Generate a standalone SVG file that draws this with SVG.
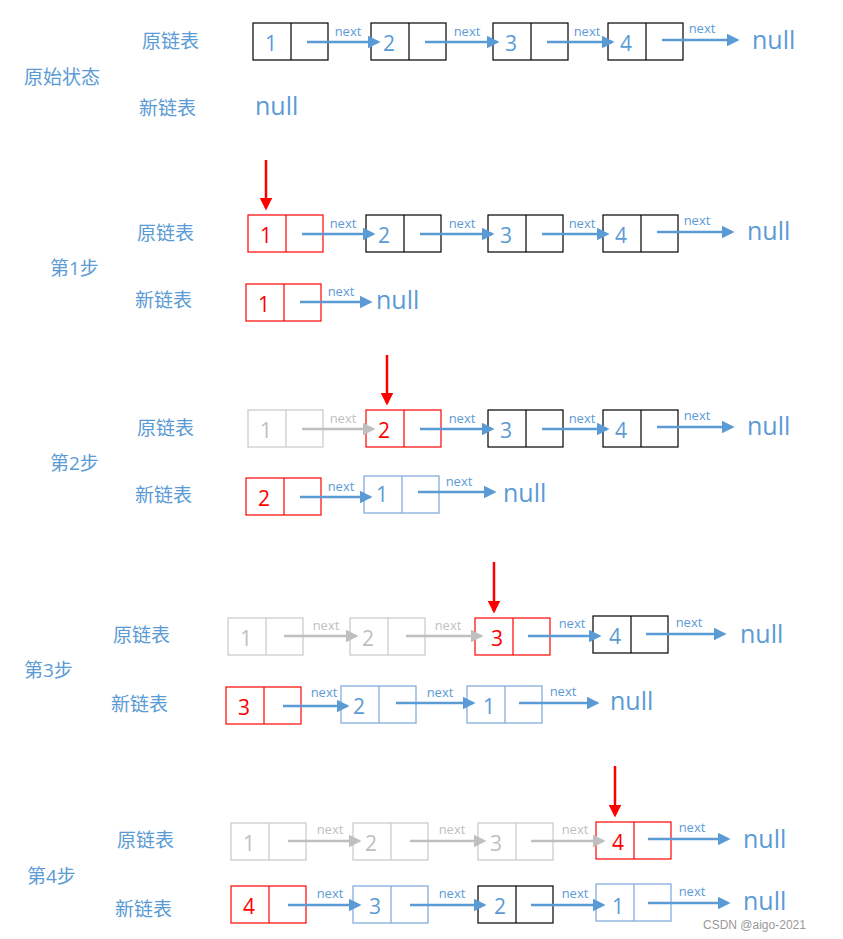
<svg xmlns="http://www.w3.org/2000/svg" width="843" height="939" viewBox="0 0 843 939">
<style>
text{font-family:"Open Sans","Noto Sans CJK SC",sans-serif;stroke:none}
.lb{fill:#5B9BD5;font-size:19px}
.num{font-size:21px;text-anchor:middle}
.nx{font-size:13px;text-anchor:middle}
.nl{fill:#5B9BD5;font-size:25px}
#bx rect{fill:#fff}
#bx{stroke-width:1.2}
.k{stroke:#000}.k text{fill:#5B9BD5}
.r{stroke:#FF0000}.r text{fill:#FF0000}
.g{stroke:#C8C8C8}.g text{fill:#BFBFBF}
.b{stroke:#7BA7D9}.b text{fill:#5B9BD5}
.ab{stroke:#5B9BD5;stroke-width:2.5;marker-end:url(#mb)}
.ag{stroke:#BFBFBF;stroke-width:2.5;marker-end:url(#mg)}
.tb{fill:#5B9BD5}.tg{fill:#BFBFBF}
.ar{stroke:#FF0000;stroke-width:2.5;marker-end:url(#mr)}
</style>
<defs>
<marker id="mb" markerWidth="5" markerHeight="5" refX="4" refY="2.5" orient="auto"><path d="M0,0L5,2.5L0,5z" fill="#5B9BD5" stroke="none"/></marker>
<marker id="mg" markerWidth="5" markerHeight="5" refX="4" refY="2.5" orient="auto"><path d="M0,0L5,2.5L0,5z" fill="#BFBFBF" stroke="none"/></marker>
<marker id="mr" markerWidth="5" markerHeight="5" refX="4" refY="2.5" orient="auto"><path d="M0,0L5,2.5L0,5z" fill="#FF0000" stroke="none"/></marker>
<g id="bx"><rect x="0" y="0" width="75" height="37"/><line x1="38" y1="0" x2="38" y2="37"/></g>
</defs>
<g id="labels">
<text class="lb" x="142" y="48">原链表</text><text class="lb" x="139" y="115">新链表</text><text class="lb" x="24" y="84">原始状态</text>
<text class="lb" x="137" y="240">原链表</text><text class="lb" x="135" y="307">新链表</text><text class="lb" x="50" y="275">第1步</text>
<text class="lb" x="137" y="435">原链表</text><text class="lb" x="135" y="502">新链表</text><text class="lb" x="50" y="470">第2步</text>
<text class="lb" x="113" y="642">原链表</text><text class="lb" x="111" y="711">新链表</text><text class="lb" x="24" y="677">第3步</text>
<text class="lb" x="117" y="847">原链表</text><text class="lb" x="115" y="916">新链表</text><text class="lb" x="27" y="883">第4步</text>
<text class="nl" x="752" y="49">null</text><text class="nl" x="255" y="115">null</text>
<text class="nl" x="747" y="240">null</text><text class="nl" x="376" y="309">null</text>
<text class="nl" x="747" y="435">null</text><text class="nl" x="503" y="502">null</text>
<text class="nl" x="740" y="643">null</text><text class="nl" x="610" y="710">null</text>
<text class="nl" x="743" y="848">null</text><text class="nl" x="743" y="910">null</text>
<text x="703" y="929" fill="#999" font-size="12" style="font-family:'Liberation Sans',sans-serif">CSDN @aigo-2021</text>
</g>
<g id="nodes">
<g id="s0a" class="k" transform="translate(253,23)"><use href="#bx"/><text class="num" x="18" y="28">1</text></g>
<g id="s0b" class="k" transform="translate(371,23)"><use href="#bx"/><text class="num" x="18" y="28">2</text></g>
<g id="s0c" class="k" transform="translate(493,23)"><use href="#bx"/><text class="num" x="18" y="28">3</text></g>
<g id="s0d" class="k" transform="translate(608,23)"><use href="#bx"/><text class="num" x="18" y="28">4</text></g>

<g id="s1a" class="r" transform="translate(248,215)"><use href="#bx"/><text class="num" x="18" y="28">1</text></g>
<g id="s1b" class="k" transform="translate(366,215)"><use href="#bx"/><text class="num" x="18" y="28">2</text></g>
<g id="s1c" class="k" transform="translate(488,215)"><use href="#bx"/><text class="num" x="18" y="28">3</text></g>
<g id="s1d" class="k" transform="translate(603,215)"><use href="#bx"/><text class="num" x="18" y="28">4</text></g>
<g id="s1n" class="r" transform="translate(246,284)"><use href="#bx"/><text class="num" x="18" y="28">1</text></g>

<g id="s2a" class="g" transform="translate(248,410)"><use href="#bx"/><text class="num" x="18" y="28">1</text></g>
<g id="s2b" class="r" transform="translate(366,410)"><use href="#bx"/><text class="num" x="18" y="28">2</text></g>
<g id="s2c" class="k" transform="translate(488,410)"><use href="#bx"/><text class="num" x="18" y="28">3</text></g>
<g id="s2d" class="k" transform="translate(603,410)"><use href="#bx"/><text class="num" x="18" y="28">4</text></g>
<g id="s2n1" class="r" transform="translate(246,478)"><use href="#bx"/><text class="num" x="18" y="28">2</text></g>
<g id="s2n2" class="b" transform="translate(364,476)"><use href="#bx"/><text class="num" x="18" y="26">1</text></g>

<g id="s3a" class="g" transform="translate(228,618)"><use href="#bx"/><text class="num" x="18" y="28">1</text></g>
<g id="s3b" class="g" transform="translate(350,618)"><use href="#bx"/><text class="num" x="18" y="28">2</text></g>
<g id="s3c" class="r" transform="translate(475,618)"><use href="#bx"/><text class="num" x="22" y="28">3</text></g>
<g id="s3d" class="k" transform="translate(593,616)"><use href="#bx"/><text class="num" x="22" y="28">4</text></g>
<g id="s3n1" class="r" transform="translate(226,687)"><use href="#bx"/><text class="num" x="18" y="28">3</text></g>
<g id="s3n2" class="b" transform="translate(341,686)"><use href="#bx"/><text class="num" x="18" y="28">2</text></g>
<g id="s3n3" class="b" transform="translate(467,686)"><use href="#bx"/><text class="num" x="22" y="28">1</text></g>

<g id="s4a" class="g" transform="translate(231,823)"><use href="#bx"/><text class="num" x="18" y="28">1</text></g>
<g id="s4b" class="g" transform="translate(353,823)"><use href="#bx"/><text class="num" x="18" y="28">2</text></g>
<g id="s4c" class="g" transform="translate(478,823)"><use href="#bx"/><text class="num" x="18" y="28">3</text></g>
<g id="s4d" class="r" transform="translate(596,822)"><use href="#bx"/><text class="num" x="22" y="28">4</text></g>
<g id="s4n1" class="r" transform="translate(231,886)"><use href="#bx"/><text class="num" x="18" y="28">4</text></g>
<g id="s4n2" class="b" transform="translate(353,886)"><use href="#bx"/><text class="num" x="22" y="28">3</text></g>
<g id="s4n3" class="k" transform="translate(478,886)"><use href="#bx"/><text class="num" x="22" y="28">2</text></g>
<g id="s4n4" class="b" transform="translate(596,884)"><use href="#bx"/><text class="num" x="22" y="30">1</text></g>
</g>
<g id="connectors">
<line class="ab" x1="307" y1="42" x2="378" y2="42"/><text class="nx tb" x="348" y="36">next</text>
<line class="ab" x1="425" y1="42" x2="497" y2="42"/><text class="nx tb" x="467" y="36">next</text>
<line class="ab" x1="547" y1="42" x2="612" y2="42"/><text class="nx tb" x="587" y="36">next</text>
<line class="ab" x1="662" y1="40" x2="737" y2="40"/><text class="nx tb" x="702" y="33">next</text>
<line class="ar" x1="266" y1="160" x2="266" y2="208"/>
<line class="ab" x1="302" y1="234" x2="373" y2="234"/><text class="nx tb" x="343" y="228">next</text>
<line class="ab" x1="420" y1="234" x2="492" y2="234"/><text class="nx tb" x="462" y="228">next</text>
<line class="ab" x1="542" y1="234" x2="607" y2="234"/><text class="nx tb" x="582" y="228">next</text>
<line class="ab" x1="657" y1="232" x2="732" y2="232"/><text class="nx tb" x="697" y="225">next</text>
<line class="ab" x1="300" y1="302" x2="370" y2="302"/><text class="nx tb" x="341" y="296">next</text>
<line class="ar" x1="387" y1="355" x2="387" y2="403"/>
<line class="ag" x1="302" y1="429" x2="373" y2="429"/><text class="nx tg" x="343" y="423">next</text>
<line class="ab" x1="420" y1="429" x2="492" y2="429"/><text class="nx tb" x="462" y="423">next</text>
<line class="ab" x1="542" y1="429" x2="607" y2="429"/><text class="nx tb" x="582" y="423">next</text>
<line class="ab" x1="657" y1="427" x2="732" y2="427"/><text class="nx tb" x="697" y="420">next</text>
<line class="ab" x1="300" y1="497" x2="370" y2="497"/><text class="nx tb" x="341" y="491">next</text>
<line class="ab" x1="418" y1="492" x2="494" y2="492"/><text class="nx tb" x="459" y="486">next</text>
<line class="ar" x1="494" y1="562" x2="494" y2="611"/>
<line class="ag" x1="284" y1="636" x2="356" y2="636"/><text class="nx tg" x="326" y="630">next</text>
<line class="ag" x1="406" y1="636" x2="481" y2="636"/><text class="nx tg" x="448" y="630">next</text>
<line class="ab" x1="528" y1="636" x2="599" y2="636"/><text class="nx tb" x="572" y="628">next</text>
<line class="ab" x1="646" y1="634" x2="724" y2="634"/><text class="nx tb" x="689" y="627">next</text>
<line class="ab" x1="283" y1="706" x2="347" y2="706"/><text class="nx tb" x="324" y="697">next</text>
<line class="ab" x1="396" y1="703" x2="473" y2="703"/><text class="nx tb" x="440" y="697">next</text>
<line class="ab" x1="519" y1="703" x2="597" y2="703"/><text class="nx tb" x="563" y="696">next</text>
<line class="ar" x1="615" y1="766" x2="615" y2="815"/>
<line class="ag" x1="288" y1="841" x2="359" y2="841"/><text class="nx tg" x="330" y="834">next</text>
<line class="ag" x1="410" y1="841" x2="484" y2="841"/><text class="nx tg" x="452" y="834">next</text>
<line class="ag" x1="531" y1="841" x2="603" y2="841"/><text class="nx tg" x="575" y="834">next</text>
<line class="ab" x1="648" y1="839" x2="728" y2="839"/><text class="nx tb" x="692" y="832">next</text>
<line class="ab" x1="288" y1="905" x2="359" y2="905"/><text class="nx tb" x="330" y="898">next</text>
<line class="ab" x1="410" y1="905" x2="484" y2="905"/><text class="nx tb" x="452" y="898">next</text>
<line class="ab" x1="531" y1="905" x2="603" y2="905"/><text class="nx tb" x="575" y="898">next</text>
<line class="ab" x1="648" y1="903" x2="728" y2="903"/><text class="nx tb" x="692" y="896">next</text>
</g>
</svg>
